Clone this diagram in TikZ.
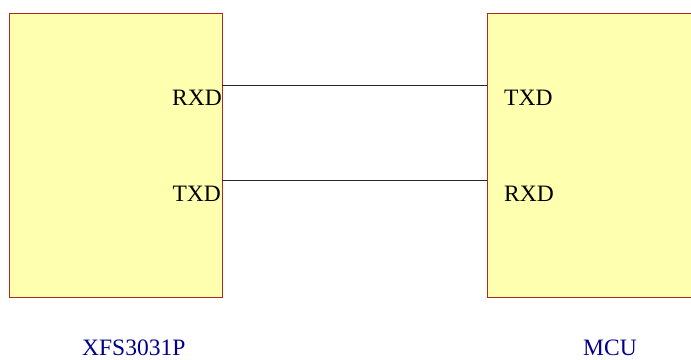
\documentclass[tikz,border=0pt]{standalone}
\usepackage{fontspec}
\setmainfont{Liberation Serif}
\definecolor{boxfill}{RGB}{255,255,176}
\definecolor{boxline}{RGB}{178,40,30}
\definecolor{labelblue}{RGB}{0,0,140}
\begin{document}
\begin{tikzpicture}[x=1pt,y=-1pt,
  chip/.style={draw=boxline,fill=boxfill,line width=1pt,inner sep=0pt,outer sep=0pt},
  pin/.style={inner sep=0pt,font=\fontsize{23.5}{28}\selectfont},
  chiplabel/.style={inner sep=0pt,text=labelblue,font=\fontsize{23.5}{28}\selectfont},
  wire/.style={draw=black!85,line width=0.9pt}]
\useasboundingbox (0,0) rectangle (691,359);
\clip (0,0) rectangle (691,359);
\node[chip,minimum width=212.7pt,minimum height=284.4pt,anchor=north west] (lbox) at (9.5,13.5) {};
\node[chip,minimum width=240pt,minimum height=284.4pt,anchor=north west] (rbox) at (487,13.5) {};
\node[pin,anchor=base east] (lrxd) at (222,105) {RXD};
\node[pin,anchor=base east] (ltxd) at (221,201.7) {TXD};
\node[pin,anchor=base west] (rtxd) at (504,105) {TXD};
\node[pin,anchor=base west] (rrxd) at (504,201.7) {RXD};
\node[chiplabel,anchor=base west] (lname) at (82,355) {XFS3031P};
\node[chiplabel,anchor=base west] (rname) at (583,355) {MCU};
\coordinate (a1) at (lbox.east |- 0,85);
\coordinate (b1) at (rbox.west |- 0,85);
\coordinate (a2) at (lbox.east |- 0,180.7);
\coordinate (b2) at (rbox.west |- 0,180.7);
\draw[wire] (a1) -- (b1);
\draw[wire] (a2) -- (b2);
\end{tikzpicture}
\end{document}
